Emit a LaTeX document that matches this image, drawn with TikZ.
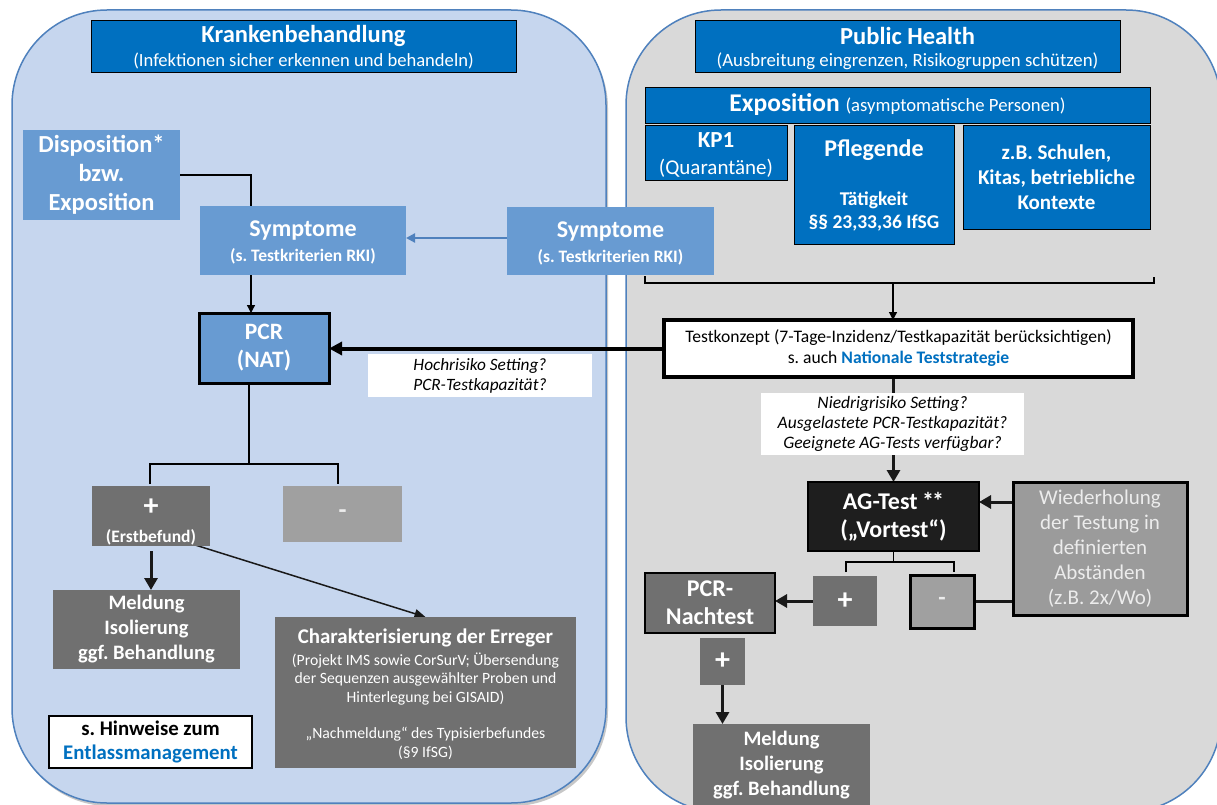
\documentclass[tikz,border=0pt]{standalone}
\usepackage{fontspec}
\setmainfont{Carlito}
\usetikzlibrary{arrows.meta}
\pgfdeclarelayer{bg}
\pgfdeclarelayer{edges}
\pgfsetlayers{bg,edges,main}
\definecolor{panelL}{RGB}{198,214,238}
\definecolor{panelR}{RGB}{217,217,217}
\definecolor{panelE}{RGB}{79,129,189}
\definecolor{hdr}{RGB}{0,112,192}
\definecolor{midblue}{RGB}{104,155,210}
\definecolor{dgray}{RGB}{112,112,112}
\definecolor{lgray}{RGB}{160,160,160}
\definecolor{mgray}{RGB}{155,155,155}
\definecolor{agfill}{RGB}{30,30,30}
\definecolor{linkblue}{RGB}{0,112,192}
\definecolor{lighttext}{RGB}{236,236,236}
\definecolor{arrblue}{RGB}{79,129,189}
\newcommand{\fs}[2]{\fontsize{#1}{#2}\selectfont}
\frenchspacing
\begin{document}
\frenchspacing
\begin{tikzpicture}[x=1pt,y=-1pt,
  nbox/.style={rectangle,inner sep=0pt,outer sep=0pt,align=center},
  hdrbox/.style={nbox,fill=hdr,draw=black,line width=0.9pt,text=white},
  bluebox/.style={nbox,fill=midblue,text=white},
  dgbox/.style={nbox,fill=dgray,text=white},
  wbox/.style={nbox,fill=white,text=black},
  txt/.style={inner sep=0pt,outer sep=0pt,align=center,text=white},
  panel/.style={draw=panelE,line width=1.5pt,rounded corners=95pt},
  thinln/.style={draw=black,line width=1.3pt},
  thickln/.style={draw=black!90,line width=3pt},
  thinarr/.style={thinln,-{Triangle[length=8pt,width=8pt]}},
  diagarr/.style={draw=black!90,line width=1.5pt,-{Triangle[length=11pt,width=9pt]}},
  thickarr/.style={thickln,-{Triangle[length=12pt,width=13pt]}},
  hugearr/.style={draw=black,line width=4pt,-{Triangle[length=13pt,width=13pt]}},
  bluearr/.style={draw=arrblue,line width=2.2pt,-{Triangle[length=9pt,width=9pt]}}
]
\useasboundingbox (0,0) rectangle (1217,805);
\clip (0,0) rectangle (1217,805);
\begin{pgfonlayer}{bg}
\fill[white] (0,0) rectangle (1217,805);
\fill[black!22,rounded corners=95pt] (14,13) rectangle (608,806);
\draw[panel,fill=panelL] (12,10) rectangle (606,803);
\draw[panel,fill=panelR] (626,10) rectangle (1221,812);
\end{pgfonlayer}

% ---------- left column ----------
\node[hdrbox,minimum width=425,minimum height=52] (hdrL) at (303.5,46) {};
\node[txt,font=\fs{24.5}{28}\bfseries] (hdrLt) at (303.5,36) {Krankenbehandlung};
\node[txt,font=\fs{18.6}{22}] (hdrLs) at (303.5,61) {(Infektionen sicher erkennen und behandeln)};

\node[bluebox,minimum width=157,minimum height=90,font=\fs{24.5}{29}\bfseries] (disp) at (101.5,175) {Disposition*\\bzw.\\Exposition};

\node[bluebox,minimum width=206,minimum height=69] (symL) at (303,240.5) {};
\node[txt,font=\fs{24}{28}\bfseries] (symLt) at (303,231) {Symptome};
\node[txt,font=\fs{17.5}{20}\bfseries] (symLs) at (303,256) {(s. Testkriterien RKI)};

\node[bluebox,minimum width=130,minimum height=70,draw=black,line width=3pt,font=\fs{23.5}{28}\bfseries] (pcr) at (264,348) {PCR\\(NAT)};

\node[wbox,minimum width=224,minimum height=43,font=\fs{17.3}{20}\itshape] (hoch) at (480,375.5) {Hochrisiko Setting?\\PCR-Testkapazität?};

\node[dgbox,minimum width=118,minimum height=60] (pL) at (151,516) {};
\node[txt,font=\fs{30}{30}\bfseries] (pLt) at (151,507) {+};
\node[txt,font=\fs{17.5}{20}\bfseries] (pLs) at (151,537) {(Erstbefund)};

\node[nbox,fill=lgray,minimum width=119,minimum height=56,text=lighttext,font=\fs{26}{28}\bfseries] (mL) at (342.5,514) {-};

\node[dgbox,minimum width=187,minimum height=79,font=\fs{20.5}{25}\bfseries] (meldL) at (146.5,629.5) {Meldung\\Isolierung\\ggf. Behandlung};

\node[dgbox,minimum width=301,minimum height=151] (char) at (425.5,692.5) {};
\node[txt,font=\fs{20.9}{24}\bfseries] (chart) at (425.5,638) {Charakterisierung der Erreger};
\node[txt,font=\fs{15.7}{18.4}] (chars) at (425.5,706) {(Projekt IMS sowie CorSurV; Übersendung\\der Sequenzen ausgewählter Proben und\\Hinterlegung bei GISAID)\\[18.4pt]„Nachmeldung“ des Typisierbefundes\\(§9 IfSG)};

\node[wbox,draw=black,line width=1.3pt,minimum width=203,minimum height=52,font=\fs{20.8}{24}\bfseries] (hinw) at (150.5,742) {s. Hinweise zum\\\textcolor{linkblue}{Entlassmanagement}};

% ---------- right column ----------
\node[hdrbox,minimum width=425,minimum height=52] (hdrR) at (907.5,46) {};
\node[txt,font=\fs{24.5}{28}\bfseries] (hdrRt) at (907.5,36) {Public Health};
\node[txt,font=\fs{18.8}{22}] (hdrRs) at (907.5,61) {(Ausbreitung eingrenzen, Risikogruppen schützen)};

\node[hdrbox,minimum width=505,minimum height=36,font=\fs{25.5}{28}\bfseries] (expo) at (897.5,105) {Exposition \fs{18.7}{20}\mdseries(asymptomatische Personen)};

\node[hdrbox,minimum width=142,minimum height=55] (kp) at (716,152.5) {};
\node[txt,font=\fs{23}{26}\bfseries] (kpt) at (716,140) {KP1};
\node[txt,font=\fs{21}{24}] (kps) at (716,168) {(Quarantäne)};

\node[hdrbox,minimum width=160,minimum height=119] (pfl) at (874,184.5) {};
\node[txt,font=\fs{24}{28}\bfseries] (pflt) at (874,150) {Pflegende};
\node[txt,font=\fs{19.5}{23}\bfseries] (pfls) at (874,211) {Tätigkeit\\§§ 23,33,36 IfSG};

\node[hdrbox,minimum width=187,minimum height=104,font=\fs{21}{25}\bfseries] (schul) at (1056.5,177) {z.B. Schulen,\\Kitas, betriebliche\\Kontexte};

\node[bluebox,minimum width=207,minimum height=68] (symR) at (610.5,241) {};
\node[txt,font=\fs{24}{28}\bfseries] (symRt) at (610.5,232) {Symptome};
\node[txt,font=\fs{17.5}{20}\bfseries] (symRs) at (610.5,257) {(s. Testkriterien RKI)};

\node[wbox,draw=black,line width=3.5pt,minimum width=469,minimum height=57,font=\fs{17.6}{21}] (tk) at (898.5,348.5) {Testkonzept (7-Tage-Inzidenz/Testkapazität berücksichtigen)\\s. auch \textcolor{linkblue}{\bfseries Nationale Teststrategie}};

\node[wbox,minimum width=263,minimum height=62,font=\fs{17.5}{20}\itshape] (nied) at (892.5,424) {Niedrigrisiko Setting?\\Ausgelastete PCR-Testkapazität?\\Geeignete AG-Tests verfügbar?};

\node[nbox,fill=agfill,draw=black,line width=2pt,minimum width=171,minimum height=69,text=white,font=\fs{24}{28}\bfseries] (ag) at (893.5,516.5) {AG-Test \kern-1pt*\kern-2pt*\\(„Vortest“)};

\node[nbox,fill=mgray,draw=black,line width=3pt,minimum width=174,minimum height=133,text=lighttext,font=\fs{21}{25}] (wied) at (1100,548.5) {Wiederholung\\der Testung in\\definierten\\Abständen\\(z.B. 2x/Wo)};

\node[dgbox,minimum width=64,minimum height=50,font=\fs{30}{30}\bfseries] (pR) at (845,601) {+};
\node[nbox,fill=lgray,draw=black,line width=3pt,minimum width=64,minimum height=53,text=lighttext,font=\fs{24}{26}\bfseries] (mR) at (942,601.5) {-};

\node[dgbox,draw=black,line width=1.2pt,minimum width=130,minimum height=60,font=\fs{24}{28}\bfseries] (nach) at (710,603) {PCR-\\Nachtest};

\node[dgbox,minimum width=45,minimum height=47,font=\fs{30}{30}\bfseries] (pR2) at (722.5,661.5) {+};

\node[dgbox,minimum width=177,minimum height=82,font=\fs{20.5}{25}\bfseries] (meldR) at (781.5,765) {Meldung\\Isolierung\\ggf. Behandlung};

% ---------- connectors ----------
\coordinate (brL) at (645,276);
\coordinate (brR) at (1154,277);
\coordinate (brM) at (893,283);
\coordinate (bL) at (150,484);
\coordinate (bR) at (338,484);
\coordinate (agbL) at (846,572);
\coordinate (agbR) at (954,572);
\begin{pgfonlayer}{edges}
\draw[thinln] (disp.east) -| ([xshift=-52pt]symL.north);
\draw[thinarr] ([xshift=-52pt]symL.south) -- ([xshift=-52pt]symL.south |- pcr.north);
\draw[bluearr] ([yshift=3pt]symR.west) -- ([yshift=3pt]symR.west -| symL.east);
\draw[thinln] (brL) -- ++(0,7) -| (brR);
\draw[thinarr] (brM) -- (brM |- tk.north);
\draw[hugearr] (tk.west) -- (tk.west -| pcr.east);
\draw[thickln,-{Triangle[length=12pt,width=13pt]}] (ag.north |- tk.south) -- (ag.north);
\draw[thinln] ([xshift=-15pt]pcr.south) -- ++(0,81);
\draw[thinln] (bL) -- ++(0,-20) -| (bR);
\draw[thickarr] ([yshift=-5pt]pL.south) -- (pL.south |- meldL.north);
\draw[diagarr] ([xshift=-18pt,yshift=2pt]pL.south east) -- (char.north);
\draw[thickarr] ([yshift=46.5pt]wied.west) coordinate (wa) -- (wa -| ag.east);
\draw[thinln] (ag.south) -- ++(0,11);
\draw[thinln] (agbL) -- ++(0,-10) -| (agbR);
\draw[thickln] (mR.east) -- (mR.east -| wied.west);
\draw[thickarr] (pR.west) -- (pR.west -| nach.east);
\draw[thickarr] (pR2.south) -- (pR2.south |- meldR.north);
\end{pgfonlayer}
\end{tikzpicture}
\end{document}
